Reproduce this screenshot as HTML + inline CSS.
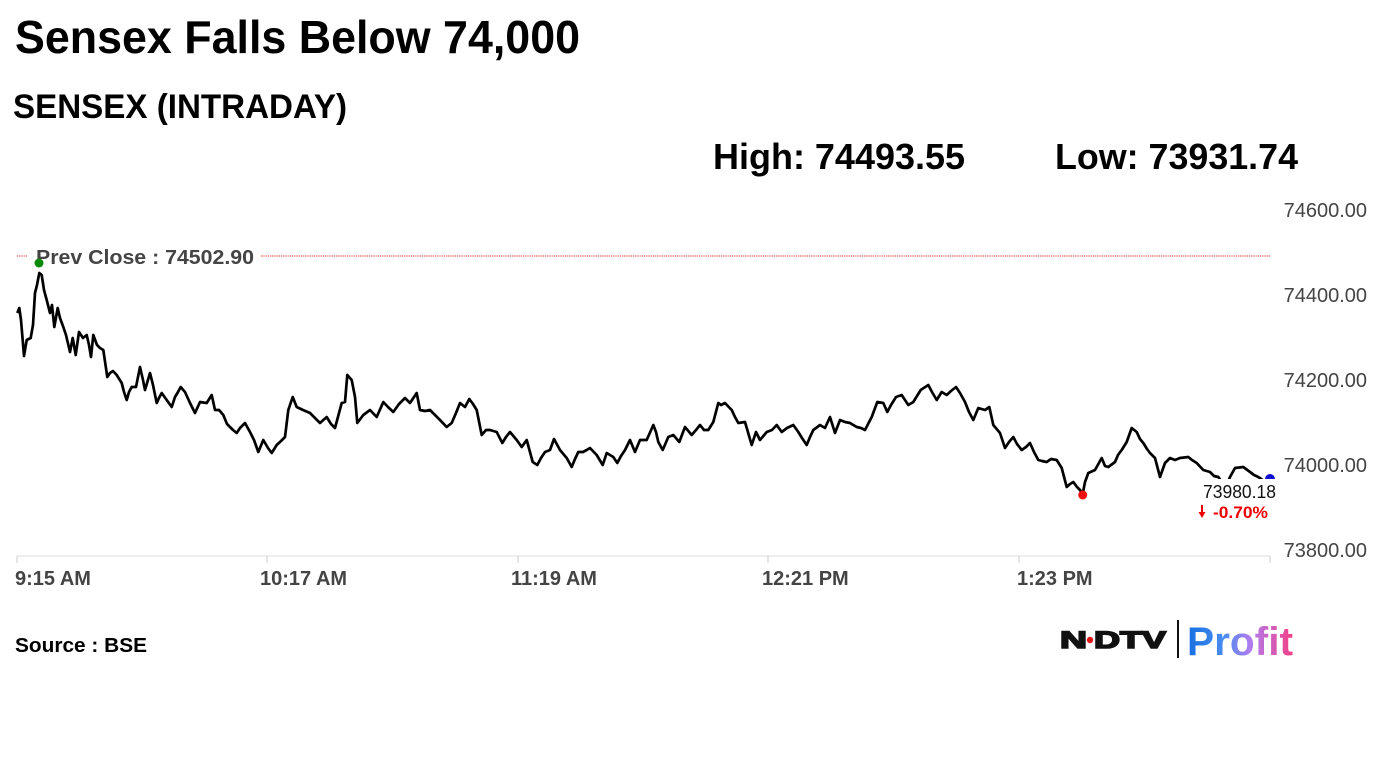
<!DOCTYPE html>
<html>
<head>
<meta charset="utf-8">
<style>
  html,body{margin:0;padding:0;background:#fff;}
  svg{display:block;}
  text{font-family:"Liberation Sans", Arial, sans-serif;}
</style>
</head>
<body>
<svg width="1382" height="777" viewBox="0 0 1382 777" xmlns="http://www.w3.org/2000/svg">
  <defs>
    <linearGradient id="pg" x1="1187" y1="0" x2="1293" y2="0" gradientUnits="userSpaceOnUse">
      <stop offset="0" stop-color="#1670e0"/>
      <stop offset="0.35" stop-color="#4a8cf0"/>
      <stop offset="0.6" stop-color="#b07cf0"/>
      <stop offset="1" stop-color="#f43f86"/>
    </linearGradient>
  </defs>
  <rect x="0" y="0" width="1382" height="777" fill="#fff"/>

  <!-- Titles -->
  <text x="15" y="53" font-size="46" font-weight="bold" fill="#000" textLength="565" lengthAdjust="spacingAndGlyphs">Sensex Falls Below 74,000</text>
  <text x="13" y="118" font-size="34" font-weight="bold" fill="#000" textLength="334" lengthAdjust="spacingAndGlyphs">SENSEX (INTRADAY)</text>
  <text x="713" y="169" font-size="36" font-weight="bold" fill="#000" textLength="252" lengthAdjust="spacingAndGlyphs">High: 74493.55</text>
  <text x="1055" y="169" font-size="36" font-weight="bold" fill="#000" textLength="243" lengthAdjust="spacingAndGlyphs">Low: 73931.74</text>

  <!-- Y axis labels -->
  <g font-size="20" fill="#444" text-anchor="end">
    <text x="1367" y="217">74600.00</text>
    <text x="1367" y="302">74400.00</text>
    <text x="1367" y="387">74200.00</text>
    <text x="1367" y="472">74000.00</text>
    <text x="1367" y="557">73800.00</text>
  </g>

  <!-- X axis -->
  <line x1="17" y1="556" x2="1270" y2="556" stroke="#ddd" stroke-width="1"/>
  <g stroke="#ccc" stroke-width="1">
    <line x1="17" y1="556" x2="17" y2="563"/>
    <line x1="267" y1="556" x2="267" y2="563"/>
    <line x1="518" y1="556" x2="518" y2="563"/>
    <line x1="768" y1="556" x2="768" y2="563"/>
    <line x1="1019" y1="556" x2="1019" y2="563"/>
    <line x1="1270" y1="556" x2="1270" y2="563"/>
  </g>
  <g font-size="20" font-weight="bold" fill="#444">
    <text x="15" y="585">9:15 AM</text>
    <text x="260" y="585">10:17 AM</text>
    <text x="511" y="585">11:19 AM</text>
    <text x="762" y="585">12:21 PM</text>
    <text x="1017" y="585">1:23 PM</text>
  </g>

  <!-- Prev close line -->
  <line x1="17" y1="256" x2="1270" y2="256" stroke="#e22" stroke-width="1" stroke-dasharray="1.2 1"/>
  <rect x="28" y="246" width="233" height="21" fill="#fff"/>
  <text x="36" y="264" font-size="20" font-weight="bold" fill="#444" textLength="218" lengthAdjust="spacingAndGlyphs">Prev Close : 74502.90</text>

  <!-- Series -->
  <polyline fill="none" stroke="#000" stroke-width="2.7" stroke-linejoin="round" points="
17.3,313 19.3,308 21,320 24,356 26.7,340 30.7,338 33,325 35,293 37,285 39.3,273 41.7,275 44,290 46.7,300 50,313 52,305 54.3,327 57.7,308 60,318 63.3,327 66,335 70,352 72.7,338 75.7,355 79,332 83,338 86.7,335 89,345 91,357 93.3,335 97,345 100,348 103.3,350 107.3,377 110,373 113,371 116.7,375 121.7,383 124,392 126.7,400 129,392 131.7,387 136,387 140,367 143,380 145,390 150,373 153,385 156.7,403 159,398 161.7,393 166.7,400 171.7,407 175,397 178,392 180.7,387 185,392 190,403 195,413 200,402 206.7,403 211.7,395 215,410 219,410 223.3,415 227,424 230,427 233,430 236.7,433 240,428 245,423 250,432 254,440 258.3,452 263.3,440 268,448 271.7,453 276.7,445 281,441 285,437 288.3,410 292.7,397 296.7,407 303,410 310,413 315,418 320,423 326.7,417 331,424 335,428 341.7,403 345,402 347.3,375 351.7,380 355,397 357.3,423 363.3,415 370,410 376.7,417 383.3,402 388,407 393.3,412 399,404 405,398 410,403 416.7,393 420,410 425,411 430,410 435,415 440,420 446.7,427 451.7,423 456,413 460,403 465,407 469.3,399 473,404 476.7,410 481.7,435 486,430 490,430 496.7,432 502.3,443 506,437 510,432 516.7,440 521.7,447 526.7,440 532.7,462 537.3,465 541,458 545,452 550,450 554,439 560,450 566.7,458 571.7,467 575,459 578.3,452 583,452 586.7,450 590,448 596.7,455 602.7,465 606.7,453 613.3,457 617.3,463 621,456 625,450 630,440 635,452 640,440 646.7,440 653.3,425 656,432 658.3,442 662.7,450 668.3,437 673.3,435 679.3,442 685,427 691.7,435 696,430 700,425 704,430 708.3,430 713.3,422 718.3,403 721,405 725,403 731.7,410 735,417 738.3,423 745,422 751.7,445 756,432 760,440 766.7,432 772,430 776.7,425 781.7,432 787,428 793.3,425 798.3,432 802,438 806.7,445 810,437 813.3,430 820,425 825,428 830,417 835,433 840,420 845,422 850,423 856.7,427 861,428 865,430 871.7,417 877.3,402 883.3,403 887.3,412 891,405 896,397 901.7,395 908.3,405 913.3,402 920.7,390 928.3,385 932,392 936.7,400 941.7,392 946.7,395 951,391 956,387 960,393 965,402 969,412 973.3,420 978.3,408 985,410 989.3,407 993.3,425 1000,433 1005,448 1009,442 1013.3,437 1017,444 1021.7,450 1026,447 1030,443 1034,452 1038.3,460 1042,461 1046.7,462 1051,459 1056.7,460 1061.7,468 1066.7,487 1070,484 1073.3,482 1077,487 1080,490 1082.7,494 1085,482 1088.3,473 1095,470 1101.7,458 1105,466 1108.3,467 1115,462 1118,455 1121.7,450 1126.7,442 1131.7,428 1136.7,432 1140,439 1143.3,443 1147,449 1150,453 1155,458 1160,477 1165,463 1170,458 1175,460 1180,458 1188.3,457 1192,460 1196.7,463 1203.3,470 1210,472 1214,476 1218.3,477 1222,482 1228,482 1230,477 1235,468 1243.3,467 1250,472 1254,475 1258.3,477 1264,481 1270,479"/>

  <!-- markers -->
  <circle cx="39" cy="263" r="4.5" fill="#0a8a0a"/>
  <circle cx="1082.7" cy="495" r="4.5" fill="#f01010"/>
  <circle cx="1270" cy="479" r="5" fill="#1010d0"/>

  <!-- end label -->
  <rect x="1196" y="479" width="86" height="44" fill="#fff"/>
  <text x="1203" y="498" font-size="18" fill="#111" textLength="73" lengthAdjust="spacingAndGlyphs">73980.18</text>
  <line x1="1202" y1="505" x2="1202" y2="513" stroke="#e00" stroke-width="2"/>
  <polygon points="1198.5,512 1205.5,512 1202,518" fill="#e00"/>
  <text x="1213" y="518" font-size="17" font-weight="bold" fill="#e00" textLength="55" lengthAdjust="spacingAndGlyphs">-0.70%</text>

  <!-- Source -->
  <text x="15" y="652" font-size="20" font-weight="bold" fill="#000" textLength="132" lengthAdjust="spacingAndGlyphs">Source : BSE</text>

  <!-- Logo -->
  <text x="1060" y="648" font-size="24" font-weight="bold" fill="#111" stroke="#111" stroke-width="1.6" textLength="27" lengthAdjust="spacingAndGlyphs">N</text>
  <circle cx="1090" cy="640" r="3.2" fill="#e01515"/>
  <text x="1094" y="648" font-size="24" font-weight="bold" fill="#111" stroke="#111" stroke-width="1.6" textLength="72" lengthAdjust="spacingAndGlyphs">DTV</text>
  <line x1="1178" y1="620" x2="1178" y2="658" stroke="#111" stroke-width="2"/>
  <text x="1187" y="655" font-size="40" font-weight="bold" fill="url(#pg)" textLength="106" lengthAdjust="spacingAndGlyphs">Profit</text>
</svg>
</body>
</html>
